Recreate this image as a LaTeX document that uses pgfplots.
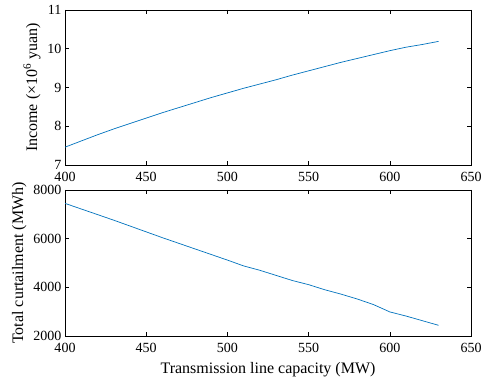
\documentclass[border=0pt]{standalone}
\usepackage{pgfplots}
\pgfplotsset{compat=1.18}
\usepackage{fontspec}
\setmainfont{Liberation Serif}
\definecolor{mblue}{RGB}{0,114,189}
\pgfplotsset{
  every axis/.append style={
    scale only axis,
    width=406pt,
    xmin=400, xmax=650,
    xtick={400,450,500,550,600,650},
    xticklabels={\textrm{400},\textrm{450},\textrm{500},\textrm{550},\textrm{600},\textrm{650}},
    tick align=inside,
    major tick length=4pt,
    tick style={black, line width=0.5pt},
    axis line style={line width=0.6pt},
    tick label style={font=\rmfamily\fontsize{14}{16}\selectfont},
    xticklabel style={yshift=-3.5pt},
    label style={font=\rmfamily\fontsize{16}{18}\selectfont},
    scaled ticks=false,
  }
}
\begin{document}
\begin{tikzpicture}
\begin{axis}[
  name=top,
  height=155pt,
  ymin=7, ymax=11,
  ytick={7,8,9,10,11},
  yticklabels={\textrm{7},\textrm{8},\textrm{9},\textrm{10},\textrm{11}},
  ylabel={Income (×10\textsuperscript{6} yuan)},
]
\addplot[mblue, line width=0.7pt] coordinates {
(400,7.46) (410,7.62) (420,7.78) (430,7.93) (440,8.07) (450,8.21) (460,8.35)
(470,8.48) (480,8.61) (490,8.74) (500,8.86) (510,8.98) (520,9.09) (530,9.20)
(540,9.32) (550,9.43) (560,9.54) (570,9.65) (580,9.75) (590,9.85) (600,9.95)
(610,10.04) (620,10.11) (630,10.19)
};
\end{axis}
\begin{axis}[
  at={(top.south west)}, anchor=north west, yshift=-25pt,
  height=146pt,
  ymin=2000, ymax=8000,
  ytick={2000,4000,6000,8000},
  yticklabels={\textrm{2000},\textrm{4000},\textrm{6000},\textrm{8000}},
  ylabel={Total curtailment (MWh)},
  xlabel={Transmission line capacity (MW)},
  xlabel style={yshift=-3pt},
]
\addplot[mblue, line width=0.7pt] coordinates {
(400,7450) (410,7220) (420,6990) (430,6760) (440,6520) (450,6280) (460,6040)
(470,5810) (480,5580) (490,5350) (500,5120) (510,4880) (520,4700) (530,4490)
(540,4280) (550,4110) (560,3900) (570,3720) (580,3520) (590,3290) (600,2990)
(610,2820) (620,2630) (630,2440)
};
\end{axis}
\path (top.north west) ++(-65pt,10pt) rectangle ++(489pt,-382pt);
\end{tikzpicture}
\end{document}
